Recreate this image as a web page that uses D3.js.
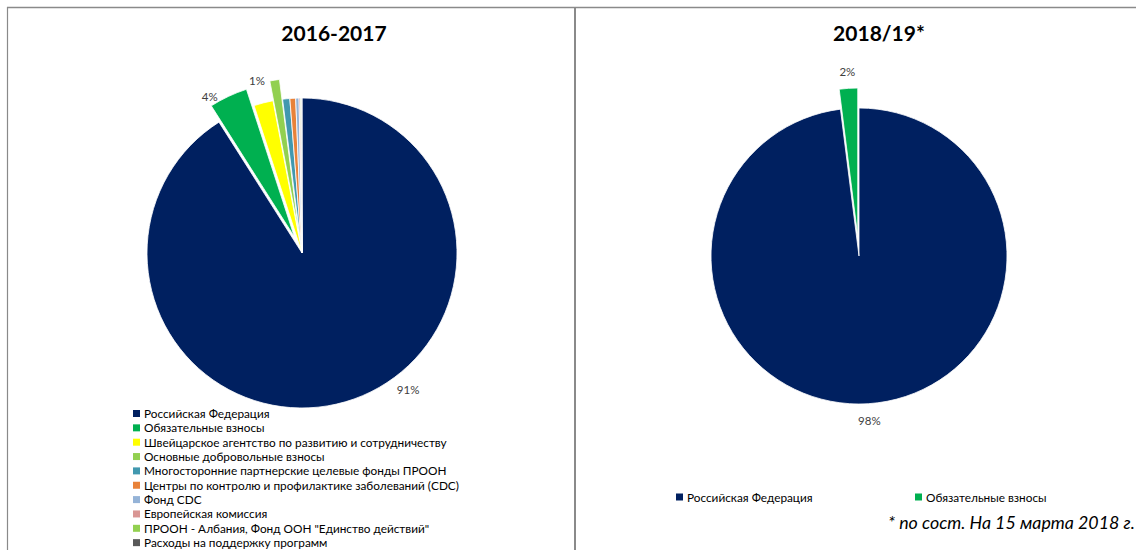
<!DOCTYPE html>
<html>
<head>
<meta charset="utf-8">
<script src="https://cdn.jsdelivr.net/npm/d3@7"></script>
<style>
  html, body { margin: 0; padding: 0; background: #ffffff; }
  svg { display: block; }
  text { font-family: Lato, "Open Sans", "DejaVu Sans", sans-serif; }
</style>
</head>
<body>
<svg id="chart" width="1136" height="550"></svg>
<script>
// 2016-2017 funding sources (share, %)
const categories2016 = [
  "Российская Федерация",
  "Обязательные взносы",
  "Швейцарское агентство по развитию и сотрудничеству",
  "Основные добровольные взносы",
  "Многосторонние партнерские целевые фонды ПРООН",
  "Центры по контролю и профилактике заболеваний (CDC)",
  "Фонд CDC",
  "Европейская комиссия",
  "ПРООН - Албания, Фонд ООН \"Единство действий\"",
  "Расходы на поддержку программ"
];
const values2016 = [91, 4, 2, 1, 0.75, 0.6, 0.35, 0.15, 0.1, 0.05];

// 2018/19 funding sources (share, %)
const categories2018 = ["Российская Федерация", "Обязательные взносы"];
const values2018 = [98, 2];

const titles = ["2016-2017", "2018/19*"];
const footnote = "* по сост. На 15 марта 2018 г.";

// Colours per source name
const palette = {
  "Российская Федерация": "#002060",
  "Обязательные взносы": "#00b050",
  "Швейцарское агентство по развитию и сотрудничеству": "#ffff00",
  "Основные добровольные взносы": "#92d050",
  "Многосторонние партнерские целевые фонды ПРООН": "#4198af",
  "Центры по контролю и профилактике заболеваний (CDC)": "#e8823a",
  "Фонд CDC": "#95b3d7",
  "Европейская комиссия": "#d99694",
  "ПРООН - Албания, Фонд ООН \"Единство действий\"": "#92d050",
  "Расходы на поддержку программ": "#595959"
};

const svg = d3.select("#chart");

// Frame lines
const frame = svg.append("g").attr("stroke", "#8a8a8a").attr("fill", "none");
frame.append("line").attr("x1", 7).attr("x2", 1136).attr("y1", 7.5).attr("y2", 7.5).attr("stroke-width", 1.5);
frame.append("line").attr("x1", 7.5).attr("x2", 7.5).attr("y1", 7).attr("y2", 550).attr("stroke-width", 1.2);
frame.append("line").attr("x1", 575).attr("x2", 575).attr("y1", 7).attr("y2", 550).attr("stroke-width", 2);

const pct = v => Math.round(v) + "%";

function drawPie(opts) {
  const { cats, vals, cx, cy, r, explode, labelled, labelPlace, title, titleX } = opts;
  const data = cats.map((c, i) => ({ name: c, value: vals[i], i }));
  const pie = d3.pie().sort(null).value(d => d.value).startAngle(0).endAngle(2 * Math.PI);
  const arcs = pie(data);
  const arc = d3.arc().innerRadius(0).outerRadius(r);
  const g = svg.append("g").attr("transform", `translate(${cx},${cy})`);

  const off = (a, k) => [Math.sin(a) * k, -Math.cos(a) * k];

  g.selectAll("path.slice")
    .data(arcs)
    .join("path")
    .attr("class", "slice")
    .attr("d", arc)
    .attr("fill", d => palette[d.data.name])
    .attr("stroke", "#ffffff")
    .attr("stroke-width", 0.8)
    .attr("transform", d => {
      const e = explode[d.index] || 0;
      const mid = (d.startAngle + d.endAngle) / 2;
      const [dx, dy] = off(mid, e);
      return `translate(${dx},${dy})`;
    });

  // Data labels
  arcs.filter(d => labelled.includes(d.index)).forEach(d => {
    const e = explode[d.index] || 0;
    const p = labelPlace(d, e, off);
    g.append("text")
      .attr("x", p.x).attr("y", p.y)
      .attr("text-anchor", p.anchor)
      .attr("dominant-baseline", "central")
      .attr("font-size", 11.5)
      .attr("fill", "#404040")
      .text(pct(d.data.value));
  });

  svg.append("text")
    .attr("x", titleX).attr("y", 41)
    .attr("text-anchor", "middle")
    .attr("font-size", 21)
    .attr("font-weight", "bold")
    .attr("fill", "#000000")
    .text(title);
}

// Left pie
drawPie({
  cats: categories2016, vals: values2016,
  cx: 302, cy: 253, r: 155,
  explode: [0, 18, 0, 20, 0, 0, 0, 0, 0, 0],
  labelled: [0, 1, 3],
  title: titles[0], titleX: 334,
  labelPlace: (d, e, off) => {
    const mid = (d.startAngle + d.endAngle) / 2;
    if (d.index === 0) {
      // large slice: best-fit position along its lower right edge
      const a = d.startAngle + (d.endAngle - d.startAngle) * 0.434;
      const [x, y] = off(a, 155 + 18);
      return { x, y, anchor: "middle" };
    }
    const [x, y] = off(mid, 155 + e + 4);
    return { x: x - 9, y: y + 4, anchor: "end" };
  }
});

// Right pie
drawPie({
  cats: categories2018, vals: values2018,
  cx: 859, cy: 256, r: 148,
  explode: [0, 20],
  labelled: [0, 1],
  title: titles[1], titleX: 879,
  labelPlace: (d, e, off) => {
    const mid = (d.startAngle + d.endAngle) / 2;
    const [x, y] = off(mid, 148 + e + 17);
    return { x, y, anchor: "middle" };
  }
});

// Legend for the left pie (vertical list)
const leg1 = svg.append("g").attr("transform", "translate(133,413.5)");
const rowH = 14.35;
categories2016.forEach((c, i) => {
  const row = leg1.append("g").attr("transform", `translate(0,${i * rowH})`);
  row.append("rect").attr("x", 0).attr("y", -3.5).attr("width", 7).attr("height", 7).attr("fill", palette[c]);
  row.append("text").attr("x", 11).attr("y", 0).attr("dominant-baseline", "central")
    .attr("font-size", 11.8).attr("fill", "#000000").text(c);
});

// Legend for the right pie (single row)
const leg2X = d3.scalePoint().domain(categories2018).range([676, 915]);
const leg2 = svg.append("g").attr("transform", "translate(0,497)");
categories2018.forEach(c => {
  const x = leg2X(c);
  leg2.append("rect").attr("x", x).attr("y", -3.5).attr("width", 7).attr("height", 7).attr("fill", palette[c]);
  leg2.append("text").attr("x", x + 11).attr("y", 0).attr("dominant-baseline", "central")
    .attr("font-size", 11.8).attr("fill", "#000000").text(c);
});

// Footnote
svg.append("text")
  .attr("x", 888).attr("y", 529)
  .attr("font-size", 17.8)
  .attr("font-style", "italic")
  .attr("fill", "#000000")
  .text(footnote);
</script>
</body>
</html>
